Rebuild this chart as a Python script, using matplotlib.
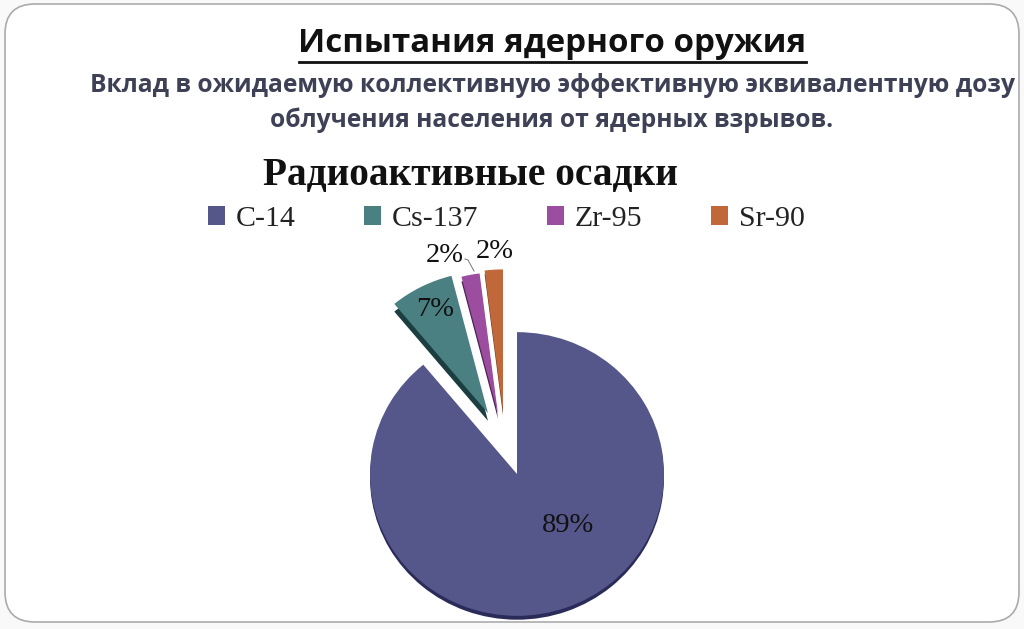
import matplotlib
matplotlib.use('Agg')
import matplotlib.pyplot as plt
from matplotlib.patches import FancyBboxPatch, Patch

labels = ['C-14', 'Cs-137', 'Zr-95', 'Sr-90']
values = [89, 7, 2, 2]
colors = ['#55568A', '#4A8082', '#9C4DA0', '#C0683A']
dark = ['#2A2B58', '#1C3E40', '#4E2352', '#6E3A20']

title = 'Испытания ядерного оружия'
subtitle1 = 'Вклад в ожидаемую коллективную эффективную эквивалентную дозу'
subtitle2 = 'облучения населения от ядерных взрывов.'
chart_title = 'Радиоактивные осадки'

W, H = 1024, 629
fig = plt.figure(figsize=(W / 100, H / 100), dpi=100, facecolor='#F9F9F9')

# background layer, in pixels of the picture
bg = fig.add_axes([0, 0, 1, 1])
bg.set_xlim(0, W)
bg.set_ylim(H, 0)
bg.axis('off')
bg.add_patch(FancyBboxPatch((35, 34), 954, 558, boxstyle='round,pad=30,rounding_size=30',
                            fc='white', ec='#ABABAB', lw=1.2))

sans = 'Open Sans'
serif = 'Liberation Serif'
bg.text(552, 44, title, ha='center', va='center', family=sans, weight='bold',
        fontsize=23.8, color='#111111')
bg.plot([299, 806], [62, 62], color='#111111', lw=2)
bg.text(552, 86, subtitle1, ha='center', va='center', family=sans, weight='bold',
        fontsize=17.7, color='#3E4156')
bg.text(552, 120, subtitle2, ha='center', va='center', family=sans, weight='bold',
        fontsize=17.7, color='#3E4156')
bg.text(470, 176, chart_title, ha='center', va='center', family=serif, weight='bold',
        fontsize=28.4, color='#111111')

# pie axes: 1 unit = 1 px across, squashed a bit vertically for the tilt
squash = 0.965
cx, cy = 517, 474
ax = fig.add_axes([0, 0, 1, 1])
ax.patch.set_alpha(0)
r = 147
offsets = [(0, 0), (-29, 63), (-19, 62), (-14, 65)]
depths = [4, 8, 5, 4]

low, _ = ax.pie(values, colors=dark, startangle=90, counterclock=False, radius=r)
top, _ = ax.pie(values, colors=colors, startangle=90, counterclock=False, radius=r)
for w, o, d in zip(low, offsets, depths):
    w.set_center((o[0], o[1] - d))
for w, o in zip(top, offsets):
    w.set_center(o)
ax.set_aspect('auto')
ax.set_xlim(-cx, W - cx)
ax.set_ylim(-(H - cy) / squash, cy / squash)
ax.axis('off')

pct_x = [568, 435, 445, 495]
pct_y = [526, 310, 255, 252]
for v, x, y in zip(values, pct_x, pct_y):
    ax.text(x - cx, (cy - y) / squash, f'{v}%', ha='center', va='center',
            family=serif, fontsize=20.5, color='#111111')
ax.plot([465 - cx, 468 - cx, 474 - cx],
        [(cy - 259) / squash, (cy - 260) / squash, (cy - 271) / squash],
        color='#777777', lw=0.7)

handles = [Patch(fc=c, ec='none') for c in colors]
fig.legend(handles, labels, ncols=4, frameon=False, loc='center',
           bbox_to_anchor=(506 / W, 1 - 219 / H),
           prop={'family': serif, 'size': 21.5}, labelcolor='#222222',
           handlelength=0.58, handleheight=0.58, handletextpad=0.35, columnspacing=2.3)

fig.savefig('out.png', dpi=100, facecolor=fig.get_facecolor())
